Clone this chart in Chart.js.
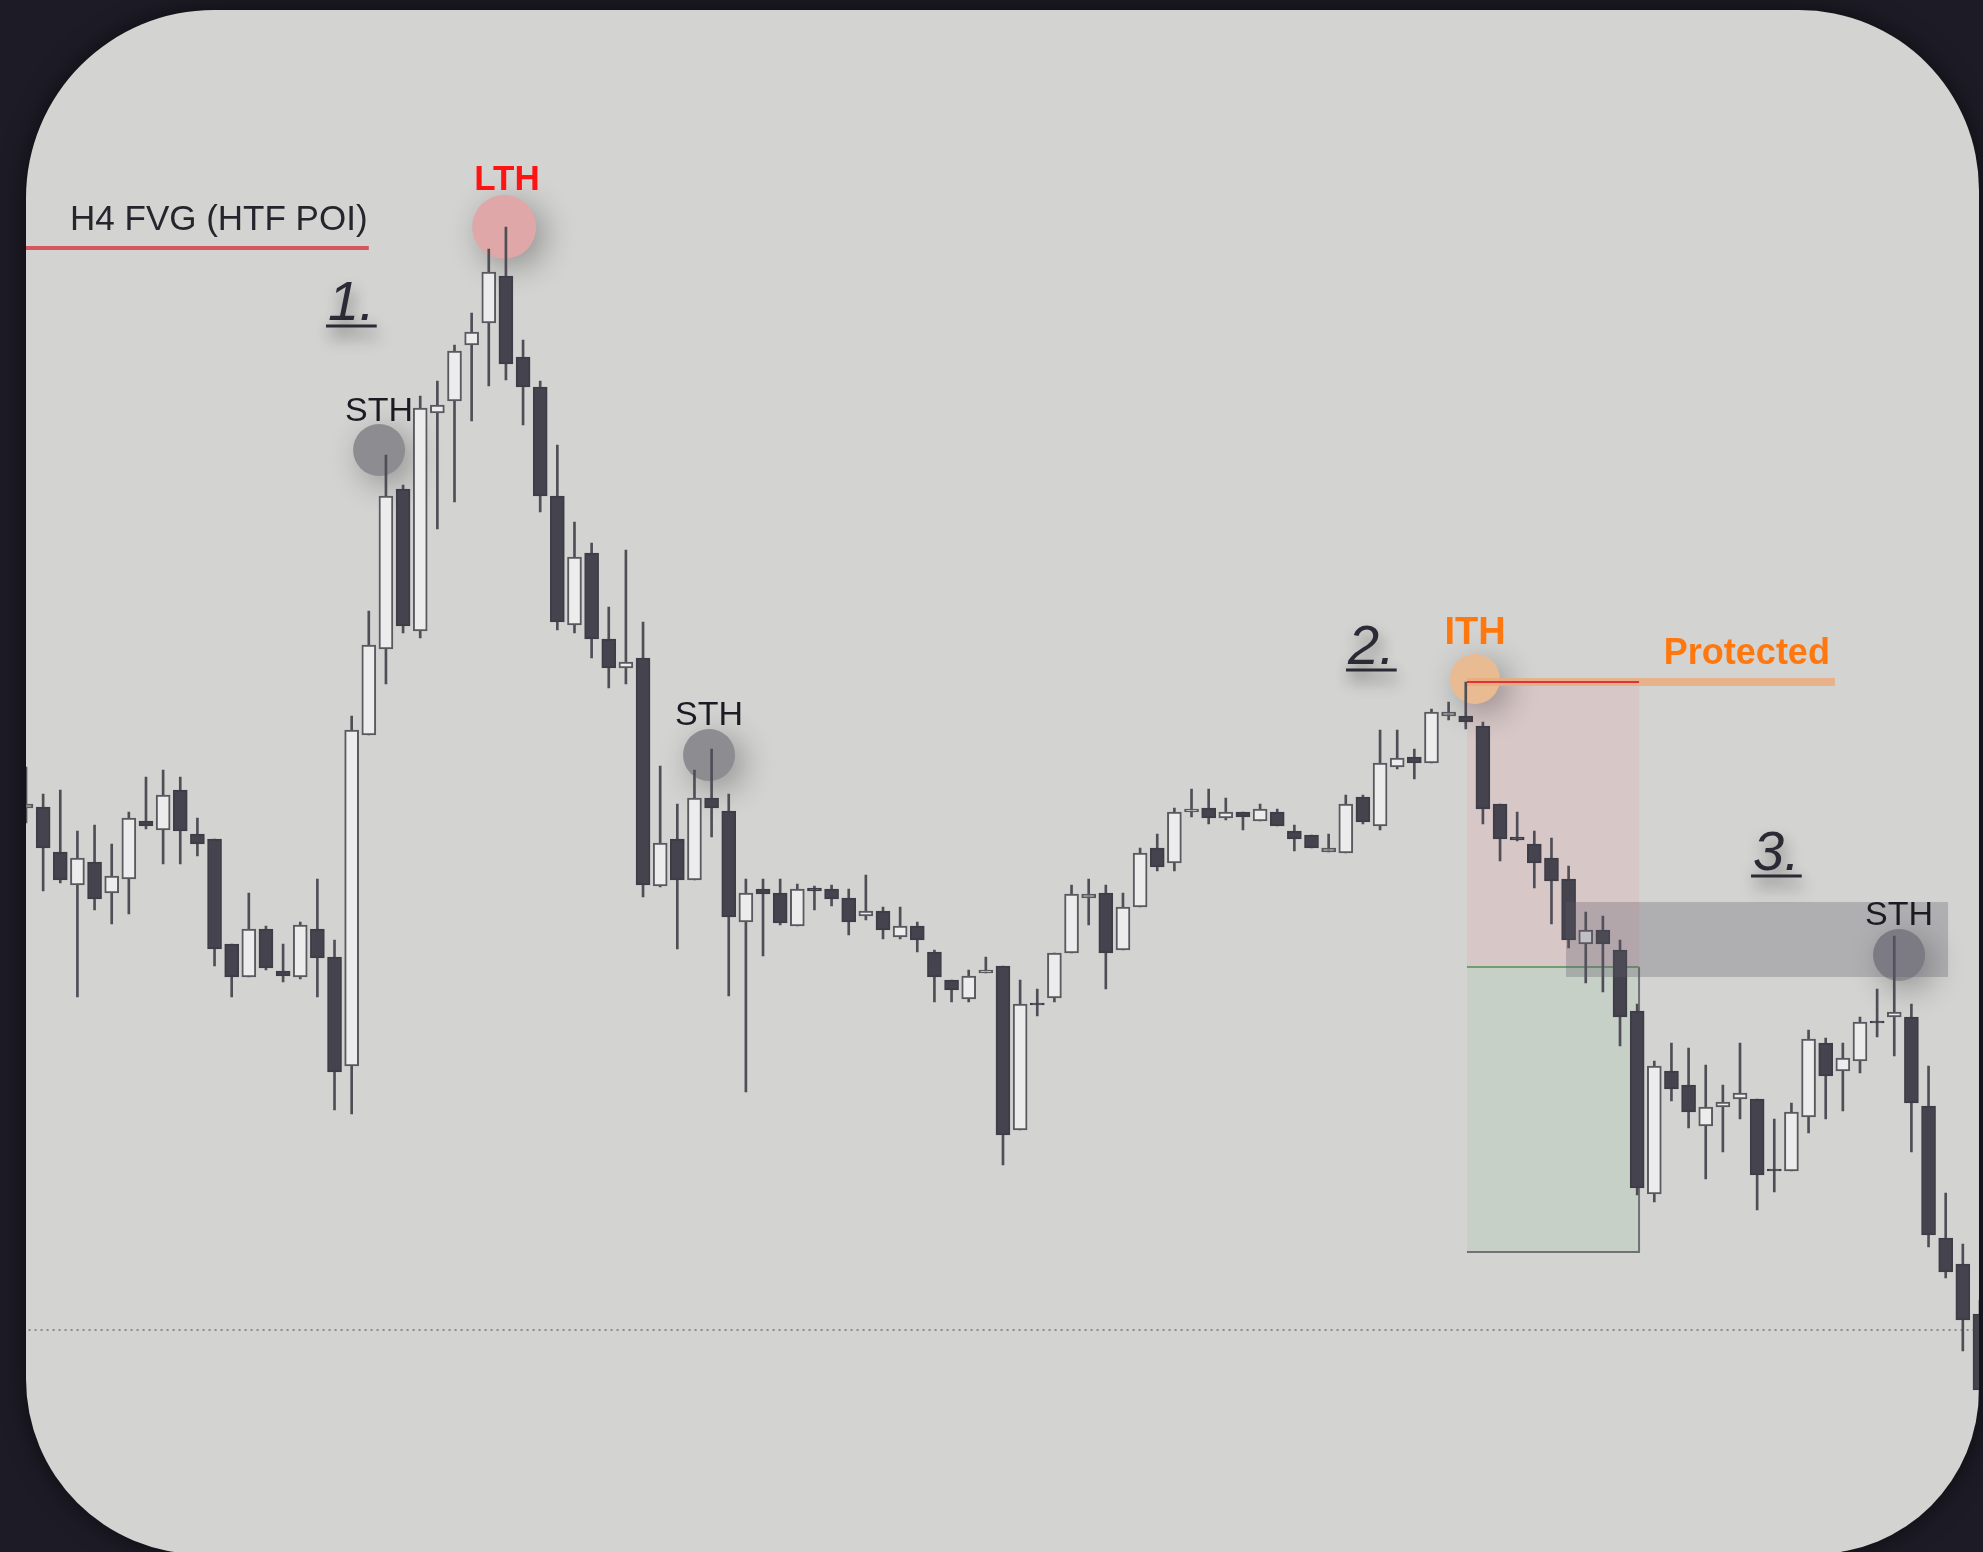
<!DOCTYPE html>
<html><head><meta charset="utf-8">
<script src="https://cdn.jsdelivr.net/npm/chart.js@4.4.0/dist/chart.umd.min.js"></script>
<style>html,body{margin:0;padding:0;background:#1d1c26;overflow:hidden}canvas{display:block}</style>
</head><body>
<canvas id="c" width="1983" height="1552"></canvas>
<script>
// ---- data (bar index, prices) ----
const candleIndex = [0,1,2,3,4,5,6,7,8,9,10,11,12,13,14,15,16,17,18,19,20,21,22,23,24,25,26,27,28,29,30,31,32,33,34,35,36,37,38,39,40,41,42,43,44,45,46,47,48,49,50,51,52,53,54,55,56,57,58,59,60,61,62,63,64,65,66,67,68,69,70,71,72,73,74,75,76,77,78,79,80,81,82,83,84,85,86,87,88,89,90,91,92,93,94,95,96,97,98,99,100,101,102,103,104,105,106,107,108,109,110,111,112,113,114];
const openP = [744,745,700,667,690,659,673,731,722,762,
  718,713,608,575,623,581,575,623,595,486,
  817,903,1063,921,1139,1151,1207,1229,1276,1195,
  1165,1056,927,999,913,884,894,666,713,672,
  754,741,630,663,659,626,664,663,654,636,
  641,615,626,600,572,553,579,586,422,549,
  554,599,654,659,602,645,704,689,740,744,
  734,740,731,740,721,717,700,699,755,726,
  785,795,789,836,836,826,748,715,708,694,
  673,608,622,602,541,358,481,467,426,445,
  453,453,383,381,435,509,481,491,531,535,
  535,446,314,288,238];
const highP = [785,758,762,721,727,708,740,775,782,775,
  734,713,608,659,626,608,630,673,612,836,
  941,1097,1067,1156,1171,1207,1239,1303,1325,1212,
  1171,1107,1030,1009,945,1002,930,786,748,782,
  803,758,673,673,673,668,666,667,663,677,
  645,645,630,602,572,582,595,586,572,563,
  599,667,673,667,659,704,718,744,763,763,
  754,740,748,743,727,717,718,757,757,822,
  822,803,843,850,870,830,748,740,721,714,
  686,640,636,612,548,491,509,504,487,467,
  509,453,433,449,522,514,509,535,563,616,
  548,486,359,308,252];
const lowP = [729,661,669,555,642,628,638,723,688,688,
  696,586,555,575,582,570,573,555,442,438,
  817,868,919,914,1023,1050,1131,1166,1172,1127,
  1040,922,919,894,864,868,655,665,603,672,
  715,556,460,596,627,626,642,646,617,632,
  613,613,600,550,550,550,579,387,422,536,
  550,599,627,563,602,645,681,681,735,728,
  732,722,731,726,701,704,700,699,728,722,
  783,773,789,832,823,728,691,711,664,628,
  604,569,560,506,357,350,451,424,373,400,
  433,342,360,381,419,433,441,479,515,496,
  400,305,274,201,152];
const closeP = [748,704,672,694,653,676,734,726,757,721,
  708,603,575,623,584,576,627,594,480,822,
  907,1056,926,1144,1147,1201,1220,1280,1188,1165,
  1056,930,995,913,884,890,667,709,672,754,
  744,635,659,658,629,663,661,653,630,641,
  622,626,612,575,562,576,582,417,548,547,
  599,658,658,599,645,699,685,740,743,734,
  740,735,743,726,713,704,704,748,730,789,
  794,789,840,840,830,743,713,712,689,671,
  612,622,608,535,364,486,463,440,445,450,
  459,377,381,440,513,476,494,530,529,540,
  449,317,280,232,162];

// swing-point markers (bar index, price)
const markerNames = ['LTH','STH','STH','ITH','STH'];
const markerX = [27.9, 20.6, 39.85, 84.54, 109.28];
const markerY = [1325, 1102, 797, 873, 597];

// levels (price)
const h4FvgLevel = 1304;
const ithLevel = 870;
const targetLevel = 585;
const stopZoneBottom = 300;
const dottedLevel = 222;
const grayZoneTop = 650;
const grayZoneBottom = 575;

// ---- derived ----
const bull = candleIndex.map((x,i)=>closeP[i] >= openP[i]);
const bodyData = candleIndex.map((x,i)=>({x:x, y:[openP[i], closeP[i]]}));
const wickData = candleIndex.map((x,i)=>({x:x, y:[lowP[i], highP[i]]}));

const markerColors = ['#dfa7a7','#8d8c91','#8d8c91','#e9bb93','#8a898e'];
const markerRadius = [32,26,26,25,26];

function cardPath(ctx){
  const L=26,T=10,R=1979,B=1554;
  const rtl=188, rtr=180, rbl=175, rbr=164;
  ctx.beginPath();
  ctx.moveTo(L+rtl,T);
  ctx.lineTo(R-rtr,T);
  ctx.arcTo(R,T,R,T+rtr,rtr);
  ctx.lineTo(R,B-rbr);
  ctx.arcTo(R,B,R-rbr,B,rbr);
  ctx.lineTo(L+rbl,B);
  ctx.arcTo(L,B,L,B-rbl,rbl);
  ctx.lineTo(L,T+rtl);
  ctx.arcTo(L,T,L+rtl,T,rtl);
  ctx.closePath();
}

const FONT = "'Liberation Sans', Arial, Helvetica, sans-serif";

const overlay = {
  id:'overlay',
  beforeDraw(chart){
    const ctx = chart.ctx;
    ctx.save();
    ctx.fillStyle = '#1d1c26';
    ctx.fillRect(0,0,chart.width,chart.height);
    ctx.shadowColor='rgba(0,0,0,0.6)'; ctx.shadowBlur=25;
    cardPath(ctx);
    ctx.fillStyle='#d3d3d1';
    ctx.fill();
    ctx.restore();
  },
  beforeDatasetsDraw(chart){
    const ctx = chart.ctx, xs = chart.scales.x, ys = chart.scales.y;
    ctx.save();
    cardPath(ctx); ctx.clip();
    const x0 = xs.getPixelForValue(84.07), x1 = xs.getPixelForValue(94.11);
    const yTop = ys.getPixelForValue(ithLevel), yMid = ys.getPixelForValue(targetLevel), yBot = ys.getPixelForValue(stopZoneBottom);
    ctx.fillStyle='rgba(232,158,165,0.22)';
    ctx.fillRect(x0,yTop,x1-x0,yMid-yTop);
    ctx.fillStyle='rgba(150,200,160,0.2)';
    ctx.fillRect(x0,yMid,x1-x0,yBot-yMid);
    ctx.strokeStyle='#707075'; ctx.lineWidth=2;
    ctx.beginPath(); ctx.moveTo(x0,yBot); ctx.lineTo(x1,yBot); ctx.lineTo(x1,yMid); ctx.stroke();
  },
  beforeDatasetDraw(chart,args){
    if (chart.data.datasets[args.index].label === 'markers'){
      const ctx = chart.ctx;
      ctx.shadowColor='rgba(0,0,0,0.32)'; ctx.shadowBlur=32; ctx.shadowOffsetX=8; ctx.shadowOffsetY=8;
    }
  },
  afterDatasetDraw(chart,args){
    const ctx = chart.ctx;
    ctx.shadowColor='rgba(0,0,0,0)'; ctx.shadowBlur=0; ctx.shadowOffsetX=0; ctx.shadowOffsetY=0;
  },
  afterDatasetsDraw(chart){
    const ctx = chart.ctx, xs = chart.scales.x, ys = chart.scales.y;
    const X = v=>xs.getPixelForValue(v), Y = v=>ys.getPixelForValue(v);
    // gray zone over candles
    ctx.fillStyle='rgba(92,90,102,0.3)';
    const gx0=X(89.85), gx1=X(112.14);
    ctx.fillRect(gx0, Y(grayZoneTop), gx1-gx0, Y(grayZoneBottom)-Y(grayZoneTop));

    function text(s,x,y,font,color,align){
      ctx.font=font; ctx.fillStyle=color; ctx.textAlign=align; ctx.textBaseline='alphabetic';
      ctx.fillText(s,X(x),Y(y));
    }
    text('H4 FVG (HTF POI)', 2.57, 1322, '35px '+FONT, '#25252d', 'left');
    text('LTH', 28.06, 1362, 'bold 35px '+FONT, '#ff1414', 'center');
    text('STH', markerX[1], 1131, '34px '+FONT, '#1c1b24', 'center');
    text('STH', markerX[2], 827, '34px '+FONT, '#1c1b24', 'center');
    text('ITH', markerX[3], 908, 'bold 38px '+FONT, '#ff780f', 'center');
    text('Protected', 100.4, 888, 'bold 36px '+FONT, '#ff780f', 'center');
    text('STH', markerX[4], 627, '34px '+FONT, '#1c1b24', 'center');

    function num(s,x,y){
      ctx.save();
      ctx.font='italic 56px '+FONT;
      ctx.fillStyle='#2b2a35'; ctx.strokeStyle='#2b2a35';
      ctx.textAlign='left'; ctx.textBaseline='alphabetic';
      ctx.shadowColor='rgba(0,0,0,0.45)'; ctx.shadowBlur=16; ctx.shadowOffsetY=10; ctx.shadowOffsetX=2;
      const px=X(x), py=Y(y);
      ctx.fillText(s,px,py);
      const w=ctx.measureText(s).width;
      ctx.lineWidth=3;
      ctx.beginPath(); ctx.moveTo(px-2,py+6); ctx.lineTo(px+w+2,py+6); ctx.stroke();
      ctx.restore();
    }
    num('1.', 17.62, 1232);
    num('2.', 77.13, 888);
    num('3.', 100.76, 682);
    ctx.restore();
  }
};

new Chart(document.getElementById('c'), {
  type:'bar',
  data:{
    datasets:[
      {label:'body', type:'bar', data:bodyData,
       backgroundColor: bull.map(b=>b?'#ececec':'#45444e'),
       borderColor: bull.map(b=>b?'#5a5960':'#3e3d47'),
       borderWidth:2, borderSkipped:false, barThickness:14, grouped:false, order:0},
      {label:'wick', type:'bar', data:wickData, backgroundColor:'#4f4e57',
       borderWidth:0, barThickness:2, grouped:false, order:1},
      {label:'ith', type:'line', data:[{x:84.07,y:ithLevel},{x:94.11,y:ithLevel}],
       borderColor:'#e0323c', borderWidth:2, pointRadius:0, fill:false, order:2},
      {label:'target', type:'line', data:[{x:84.07,y:targetLevel},{x:94.11,y:targetLevel}],
       borderColor:'#6f9f70', borderWidth:2, pointRadius:0, fill:false, order:3},
      {label:'protected', type:'line', data:[{x:84.07,y:ithLevel},{x:105.54,y:ithLevel}],
       borderColor:'rgba(236,170,120,0.8)', borderWidth:8, pointRadius:0, fill:false, order:4},
      {label:'h4', type:'line', data:[{x:-1.6,y:h4FvgLevel},{x:20.0,y:h4FvgLevel}],
       borderColor:'rgba(212,72,82,0.9)', borderWidth:4, pointRadius:0, fill:false, order:5},
      {label:'dotted', type:'line', data:[{x:-1.6,y:dottedLevel},{x:114.3,y:dottedLevel}],
       borderColor:'#8a8a8c', borderWidth:2, borderDash:[2,4], pointRadius:0, fill:false, order:6},
      {label:'markers', type:'scatter', data:markerX.map((x,i)=>({x:x,y:markerY[i]})),
       pointRadius:markerRadius, pointBackgroundColor:markerColors, pointBorderWidth:0,
       pointHoverRadius:markerRadius, order:7}
    ]
  },
  options:{
    responsive:false, animation:false, events:[],
    layout:{padding:0, autoPadding:false},
    plugins:{legend:{display:false}, tooltip:{enabled:false}},
    scales:{
      x:{type:'linear', min:-1.517, max:114.177, display:false, offset:false, grid:{display:false}},
      y:{type:'linear', min:0, max:1552, display:false, grid:{display:false}}
    }
  },
  plugins:[overlay]
});
</script>
</body></html>
